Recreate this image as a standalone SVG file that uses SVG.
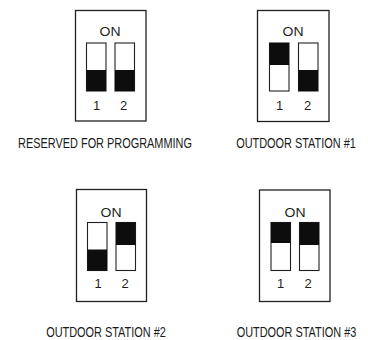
<svg xmlns="http://www.w3.org/2000/svg" width="368" height="340" viewBox="0 0 368 340">
<style>
.box{fill:#fff;stroke:#231f20;stroke-width:1.3}
.sw{fill:#fff;stroke:#231f20;stroke-width:1.1}
.blk{fill:#0d0d0d}
.on{font-family:"Liberation Sans",Arial,sans-serif;font-size:12.5px;fill:#231f20;text-anchor:middle}
.num{font-family:"Liberation Sans",Arial,sans-serif;font-size:13px;fill:#231f20;text-anchor:middle}
.lbl{font-family:"Liberation Sans",Arial,sans-serif;font-size:14px;fill:#1a1a1a;text-anchor:middle}
</style>
<rect width="368" height="340" fill="#fff"/>
<g id="reserved">
<rect class="box" x="75.5" y="10.5" width="70.5" height="110.5"/>
<text class="on" x="110" y="35.7" textLength="21" lengthAdjust="spacingAndGlyphs">ON</text>
<rect class="sw" x="86.5" y="43" width="19.5" height="48"/>
<rect class="blk" x="86.5" y="70" width="19.5" height="21"/>
<rect class="sw" x="115" y="43" width="19.5" height="48"/>
<rect class="blk" x="115" y="70" width="19.5" height="21"/>
<text class="num" x="96.5" y="110">1</text>
<text class="num" x="123.5" y="110">2</text>
<text class="lbl" transform="translate(105,148) scale(0.78,1)">RESERVED FOR PROGRAMMING</text>
</g>
<g id="station1">
<rect class="box" x="257.5" y="10.5" width="71.5" height="111"/>
<text class="on" x="293" y="35.7" textLength="21" lengthAdjust="spacingAndGlyphs">ON</text>
<rect class="sw" x="269.5" y="43" width="19.5" height="48"/>
<rect class="blk" x="269.5" y="43" width="19.5" height="22"/>
<rect class="sw" x="298.5" y="43" width="19.5" height="48"/>
<rect class="blk" x="298.5" y="70" width="19.5" height="21"/>
<text class="num" x="279.5" y="110">1</text>
<text class="num" x="307.5" y="110">2</text>
<text class="lbl" transform="translate(296,148) scale(0.78,1)">OUTDOOR STATION #1</text>
</g>
<g id="station2">
<rect class="box" x="76.5" y="189.5" width="70" height="112"/>
<text class="on" x="111" y="216.7" textLength="21" lengthAdjust="spacingAndGlyphs">ON</text>
<rect class="sw" x="87.5" y="222.5" width="19.5" height="48"/>
<rect class="blk" x="87.5" y="249.5" width="19.5" height="21"/>
<rect class="sw" x="116" y="222.5" width="19.5" height="48"/>
<rect class="blk" x="116" y="222.5" width="19.5" height="22.5"/>
<text class="num" x="98" y="287.5">1</text>
<text class="num" x="125" y="287.5">2</text>
<text class="lbl" transform="translate(106,337) scale(0.78,1)">OUTDOOR STATION #2</text>
</g>
<g id="station3">
<rect class="box" x="259.5" y="190" width="70.5" height="111.5"/>
<text class="on" x="295" y="216.7" textLength="21" lengthAdjust="spacingAndGlyphs">ON</text>
<rect class="sw" x="271" y="222.5" width="19.5" height="48"/>
<rect class="blk" x="271" y="222.5" width="19.5" height="20.5"/>
<rect class="sw" x="299.5" y="222.5" width="19.5" height="48"/>
<rect class="blk" x="299.5" y="222.5" width="19.5" height="22.5"/>
<text class="num" x="280.7" y="287.5">1</text>
<text class="num" x="308" y="287.5">2</text>
<text class="lbl" transform="translate(296.5,337) scale(0.78,1)">OUTDOOR STATION #3</text>
</g>
<g id="connectors"/>
</svg>
